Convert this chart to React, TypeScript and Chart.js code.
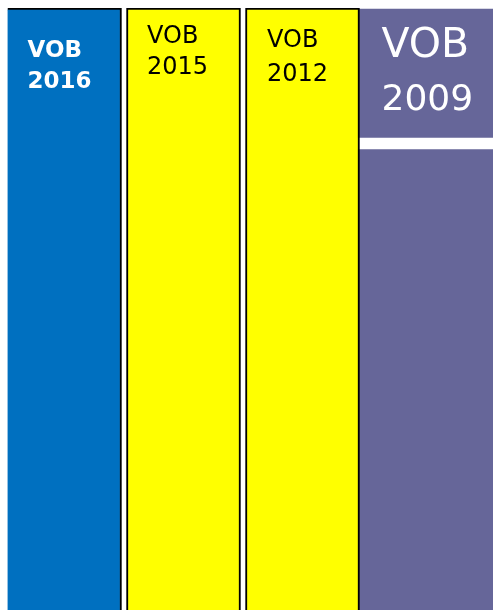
import React, { useEffect, useRef } from "react";
import { Chart, registerables } from "chart.js";

Chart.register(...registerables);

// ---- data ----
const categories = ["VOB 2016", "VOB 2015", "VOB 2012", "VOB 2009"];
const columnValues = [100, 100, 100, 99.8];
const bandRange: [number, number] = [76.6, 78.4]; // white strip inside the last column

// ---- styles ----
const fillColors = ["#0070C0", "#FFFF00", "#FFFF00", "#666699"];
const barWidths = [114, 114, 114, 143];
const borderWidths = [
  { left: 0, top: 2, right: 2, bottom: 0 },
  { left: 2, top: 2, right: 2, bottom: 0 },
  { left: 2, top: 2, right: 2, bottom: 0 },
  0,
];
const labelStyles = [
  { color: "#FFFFFF", size: 23, weight: "bold", dx: -37, baselines: [48.7, 79.7] },
  { color: "#000000", size: 24, weight: "normal", dx: -36.5, baselines: [35.3, 66.3] },
  { color: "#000000", size: 24, weight: "normal", dx: -35.5, baselines: [38.7, 73] },
  { color: "#FFFFFF", size: 41, weight: "normal", dx: -40, baselines: [48.7, 102], size2: 36 },
];

const labelPlugin = {
  id: "columnLabels",
  afterDatasetsDraw(chart: any) {
    const { ctx, chartArea } = chart;
    const xs = chart.scales.x;
    ctx.save();
    ctx.textAlign = "left";
    ctx.textBaseline = "alphabetic";
    categories.forEach((cat, i) => {
      const st: any = labelStyles[i];
      const cx = xs.getPixelForValue(i);
      const words = cat.split(" ");
      words.forEach((w, li) => {
        const size = li === 1 && st.size2 ? st.size2 : st.size;
        ctx.font = `${st.weight} ${size}px "DejaVu Sans", Verdana, sans-serif`;
        ctx.fillStyle = st.color;
        ctx.fillText(w, cx + st.dx, chartArea.top + st.baselines[li]);
      });
    });
    ctx.restore();
  },
};

export default function App() {
  const ref = useRef<HTMLCanvasElement | null>(null);

  useEffect(() => {
    if (!ref.current) return;
    const only = (i: number, v: any) => categories.map((_, j) => (j === i ? v : null));
    const columnDataset = (i: number) => ({
      label: categories[i],
      data: only(i, columnValues[i]),
      backgroundColor: fillColors[i],
      borderColor: "#000000",
      borderWidth: borderWidths[i] as any,
      borderSkipped: false as any,
      barThickness: barWidths[i],
      grouped: false,
      clip: false as any,
    });
    const chart = new Chart(ref.current, {
      type: "bar",
      data: {
        labels: categories,
        datasets: [
          columnDataset(0),
          columnDataset(1),
          columnDataset(2),
          {
            label: "band",
            data: only(3, bandRange),
            backgroundColor: "#FFFFFF",
            borderWidth: 0,
            barThickness: barWidths[3],
            grouped: false,
            clip: false as any,
          },
          columnDataset(3),
        ] as any,
      },
      options: {
        animation: false,
        responsive: true,
        maintainAspectRatio: false,
        events: [],
        layout: { padding: { left: 0, right: 12, top: 0, bottom: 0 } },
        plugins: { legend: { display: false }, tooltip: { enabled: false } },
        scales: {
          x: { display: false, offset: true },
          y: { display: false, min: 0, max: 100 },
        },
      },
      plugins: [labelPlugin],
    });
    return () => chart.destroy();
  }, []);

  return (
    <div
      style={{
        position: "fixed",
        left: 5,
        top: 8,
        width: 488,
        height: 602,
      }}
    >
      <canvas ref={ref} />
    </div>
  );
}
